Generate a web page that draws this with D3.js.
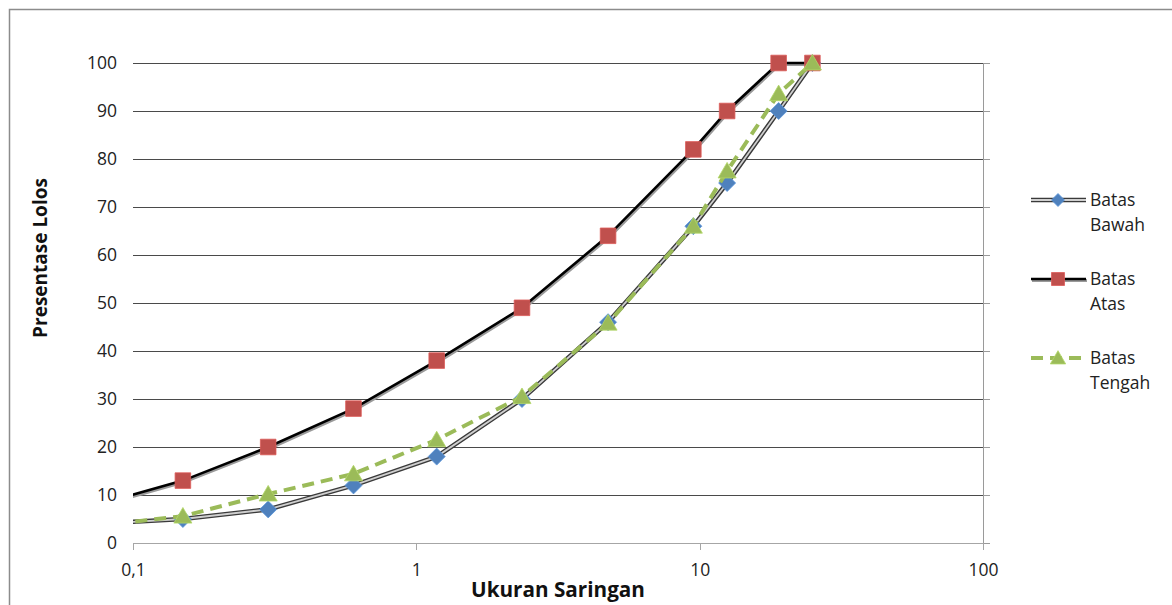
<!DOCTYPE html>
<html>
<head>
<meta charset="utf-8">
<script src="https://cdn.jsdelivr.net/npm/d3@7"></script>
<style>
  body { margin: 0; background: #fff; }
  svg { display: block; font-family: "Open Sans", sans-serif; }
</style>
</head>
<body>
<div id="chart"></div>
<script>
// sieve sizes (mm); the first one sits left of the axis minimum and gets clipped
const sizes = [0.075, 0.15, 0.3, 0.6, 1.18, 2.36, 4.75, 9.5, 12.5, 19, 25]
const batasBawah = [4, 5, 7, 12, 18, 30, 46, 66, 75, 90, 100]
const batasAtas = [8, 13, 20, 28, 38, 49, 64, 82, 90, 100, 100]
const batasTengah = [3.6, 5.6, 10.2, 14.4, 21.5, 30.5, 45.8, 66, 77.5, 93.6, 100]
const xTicks = [0.1, 1, 10, 100]
const yTicks = [0, 10, 20, 30, 40, 50, 60, 70, 80, 90, 100]

const width = 1172
const height = 605
const margin = { top: 63, right: 189, bottom: 62, left: 133 }

const svg = d3.select('#chart')
  .append('svg')
  .attr('width', width)
  .attr('height', height)

// chart area border (runs off the right and bottom edges)
svg.append('path')
  .attr('d', `M9.5,${height + 5}V9.5H${width + 5}`)
  .attr('fill', 'none')
  .attr('stroke', '#8c8c8c')
  .attr('stroke-width', 1.5)

const x = d3.scaleLog()
  .domain([0.1, 100])
  .range([margin.left, width - margin.right])

const y = d3.scaleLinear()
  .domain([0, 100])
  .range([height - margin.bottom, margin.top])

const plotW = x.range()[1] - x.range()[0]

// horizontal gridlines + left labels
svg.append('g')
  .attr('class', 'y')
  .attr('transform', `translate(${margin.left},0)`)
  .call(d3.axisLeft(y).tickValues(yTicks).tickSize(-plotW).tickPadding(16))
  .call(g => g.select('.domain').remove())
  .call(g => g.selectAll('line')
    .attr('stroke', d => d === 0 ? 'none' : '#4a4a4a')
    .attr('shape-rendering', 'crispEdges'))
  .call(g => g.selectAll('text')
    .attr('font-size', 17.5)
    .attr('font-family', '"Open Sans", sans-serif')
    .attr('fill', '#222'))

// vertical axis line on the right with outside ticks
svg.append('g')
  .attr('transform', `translate(${x.range()[1]},0)`)
  .call(d3.axisRight(y).tickValues(yTicks).tickSize(7).tickSizeOuter(0).tickFormat(''))
  .call(g => g.selectAll('.domain, line')
    .attr('stroke', '#9a9a9a')
    .attr('shape-rendering', 'crispEdges'))

// x axis
svg.append('g')
  .attr('class', 'x')
  .attr('transform', `translate(0,${y(0)})`)
  .call(d3.axisBottom(x).tickValues(xTicks).tickSize(7).tickSizeOuter(0).tickPadding(14)
    .tickFormat(d => String(d).replace('.', ',')))
  .call(g => g.selectAll('.domain, line')
    .attr('stroke', '#a6a6a6')
    .attr('shape-rendering', 'crispEdges'))
  .call(g => g.selectAll('text')
    .attr('font-size', 17.5)
    .attr('font-family', '"Open Sans", sans-serif')
    .attr('fill', '#222'))

// titles
svg.append('text')
  .attr('x', (x.range()[0] + x.range()[1]) / 2)
  .attr('y', 597)
  .attr('text-anchor', 'middle')
  .attr('font-size', 20.7)
  .attr('font-weight', 'bold')
  .attr('fill', '#111')
  .text('Ukuran Saringan')

svg.append('text')
  .attr('transform', 'translate(47,258) rotate(-90)')
  .attr('text-anchor', 'middle')
  .attr('font-size', 19)
  .attr('font-weight', 'bold')
  .attr('fill', '#111')
  .text('Presentase Lolos')

svg.append('clipPath')
  .attr('id', 'plotclip')
  .append('rect')
  .attr('x', x.range()[0])
  .attr('y', 0)
  .attr('width', plotW)
  .attr('height', height)

const lineOf = values => d3.line()
  .x((d, i) => x(sizes[i]))
  .y(d => y(d))(values)

const plot = svg.append('g').attr('clip-path', 'url(#plotclip)')

const diamond = s => `M0,${-s}L${s},0L0,${s}L${-s},0Z`
const square = s => `M${-s},${-s}H${s}V${s}H${-s}Z`
const triangle = s => `M0,${-s * 1.05}L${s * 1.1},${s * 0.85}L${-s * 1.1},${s * 0.85}Z`

const series = [
  { name: ['Batas', 'Bawah'], values: batasBawah, color: '#4f81bd', marker: diamond, size: 8.5, legendSize: 6.5 },
  { name: ['Batas', 'Atas'], values: batasAtas, color: '#c0504d', marker: square, size: 7.8, legendSize: 6.5 },
  { name: ['Batas', 'Tengah'], values: batasTengah, color: '#9bbb59', marker: triangle, size: 8.2, legendSize: 7 }
]

function drawStroke(g, s, d) {
  if (s.marker === diamond) {
    g.append('path').attr('d', d).attr('fill', 'none').attr('stroke', '#3a3a3a').attr('stroke-width', 4.6)
    g.append('path').attr('d', d).attr('fill', 'none').attr('stroke', '#cfcfcf').attr('stroke-width', 1.8)
  } else if (s.marker === square) {
    g.append('path').attr('d', d).attr('fill', 'none').attr('stroke', '#9a9a9a').attr('stroke-width', 3)
      .attr('transform', 'translate(1,1.5)')
    g.append('path').attr('d', d).attr('fill', 'none').attr('stroke', '#000').attr('stroke-width', 2.6)
  } else {
    g.append('path').attr('d', d).attr('fill', 'none').attr('stroke', s.color).attr('stroke-width', 4)
      .attr('stroke-dasharray', '12,7')
  }
}

series.forEach(s => {
  const g = plot.append('g')
  drawStroke(g, s, lineOf(s.values))
  g.selectAll('path.mark')
    .data(s.values)
    .join('path')
    .attr('class', 'mark')
    .attr('transform', (d, i) => `translate(${x(sizes[i])},${y(d)})`)
    .attr('d', s.marker(s.size))
    .attr('fill', s.color)
    .attr('stroke', d3.color(s.color).brighter(0.4))
    .attr('stroke-width', 0.8)
})

// legend
const legendY = [200, 279, 358]
const legend = svg.append('g')
series.forEach((s, i) => {
  const g = legend.append('g').attr('transform', `translate(1031,${legendY[i]})`)
  drawStroke(g, s, 'M0,0H55')
  g.append('path')
    .attr('transform', 'translate(27,0)')
    .attr('d', s.marker(s.legendSize))
    .attr('fill', s.color)
    .attr('stroke', d3.color(s.color).brighter(0.4))
    .attr('stroke-width', 0.8)
  g.selectAll('text')
    .data(s.name)
    .join('text')
    .attr('x', 59)
    .attr('y', (d, j) => j * 24.5)
    .attr('dy', '0.35em')
    .attr('font-size', 17.5)
    .attr('fill', '#222')
    .text(d => d)
})
</script>
</body>
</html>
